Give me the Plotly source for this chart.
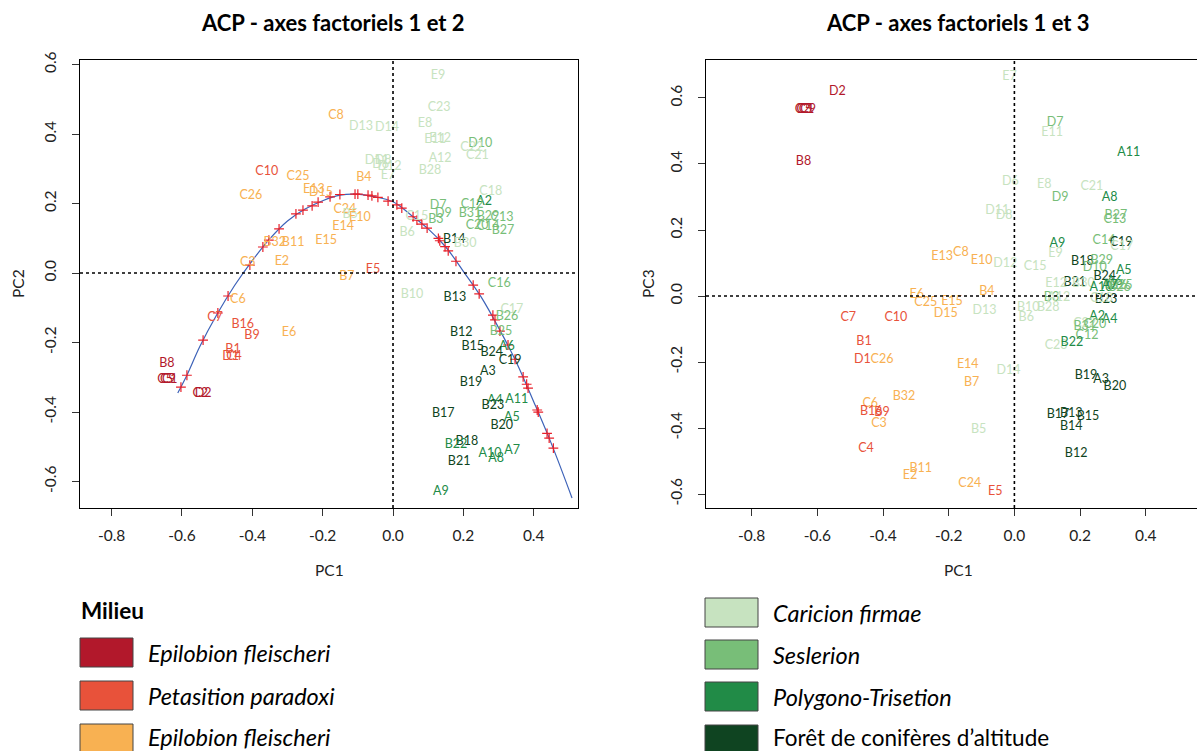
import plotly.graph_objects as go

W, H = 1197, 751
FONT = "Lato"

# ---------------- groups / legend ----------------
group_names = ["Epilobion fleischeri", "Petasition paradoxi", "Epilobion fleischeri",
               "Caricion firmae", "Seslerion", "Polygono-Trisetion",
               "Forêt de conifères d’altitude"]
group_colors = ["#B2182B", "#E8523A", "#F8B152", "#C7E3C0", "#78BE78", "#218B47", "#0F4421"]
group_italic = [True, True, True, True, True, True, False]

members_epilobion_dark = ["B8", "C1", "C2", "C5", "C9", "D2"]
members_petasition = ["C10", "C7", "B16", "B9", "B1", "D1", "C4", "E5"]
members_epilobion_orange = ["C8", "C25", "C26", "E13", "D15", "B32", "B11", "E15", "B4",
                            "C24", "E10", "E14", "E2", "C3", "C6", "E6", "B7"]
members_caricion = ["E7", "E8", "E9", "E11", "E12", "C15", "C17", "C18", "C21", "C22", "C23",
                    "D6", "D8", "D11", "D12", "D13", "D14", "A12", "B28", "B30", "B6", "B10", "B5"]
members_seslerion = ["D7", "D9", "D10", "C12", "C13", "C14", "C16", "C20", "B3", "B25",
                     "B26", "B27", "B29", "B31"]
members_polygono = ["A2", "A4", "A5", "A6", "A7", "A8", "A9", "A10", "A11", "B22"]
members_foret = ["A3", "B12", "B13", "B14", "B15", "B17", "B18", "B19", "B20", "B21",
                 "B23", "B24", "C19"]

# ---------------- plot 1: PC1 x PC2 ----------------
names12 = ["C10", "C25", "C26", "E13", "D15", "B32", "B11", "E15", "C8", "B4", "C24", "B5",
           "E10", "E14", "E2", "C3", "C6", "C7", "B16", "B9", "E6", "B1", "D1", "C4", "B8",
           "C5", "C9", "C1", "C2", "D2",
           "E9", "C23", "D13", "D14", "E8", "E11", "E12", "D10", "C22", "C21", "A12", "D11",
           "D8", "D6", "D12", "E7", "B28", "C18", "A2", "C12", "D7", "D9", "B31", "B3", "C15",
           "B6", "B29", "C13", "C20", "C14", "B27", "B14", "B30", "E5", "B7",
           "C16", "B10", "B13", "C17", "B26", "B25", "B12", "B15", "A6", "B24", "C19", "A3",
           "B19", "A4", "A11", "B23", "B17", "A5", "B20", "B18", "B22", "A10", "A7", "A8",
           "B21", "A9"]
pc1_12 = [-0.359, -0.27, -0.404, -0.225, -0.205, -0.336, -0.284, -0.19, -0.162, -0.083, -0.137, -0.122,
          -0.094, -0.142, -0.316, -0.413, -0.441, -0.506, -0.427, -0.401, -0.296, -0.455, -0.462, -0.452, -0.643,
          -0.648, -0.640, -0.635, -0.548, -0.540,
          0.128, 0.131, -0.091, -0.017, 0.091, 0.120, 0.134, 0.248, 0.224, 0.240, 0.134, -0.046,
          -0.028, -0.035, -0.010, -0.014, 0.105, 0.278, 0.259, 0.225, 0.128, 0.143, 0.219, 0.122, 0.068,
          0.040, 0.270, 0.310, 0.239, 0.270, 0.313, 0.174, 0.205, -0.057, -0.131,
          0.302, 0.054, 0.176, 0.338, 0.324, 0.307, 0.194, 0.227, 0.324, 0.281, 0.333, 0.270,
          0.222, 0.290, 0.352, 0.284, 0.143, 0.338, 0.309, 0.210, 0.179, 0.276, 0.339, 0.293,
          0.188, 0.136]
pc2_12 = [0.292, 0.276, 0.222, 0.240, 0.232, 0.086, 0.087, 0.092, 0.452, 0.273, 0.181, 0.167,
          0.158, 0.132, 0.032, 0.029, -0.078, -0.130, -0.150, -0.181, -0.172, -0.222, -0.242, -0.242, -0.262,
          -0.308, -0.308, -0.308, -0.349, -0.349,
          0.567, 0.474, 0.420, 0.417, 0.429, 0.383, 0.386, 0.371, 0.360, 0.337, 0.328, 0.322,
          0.322, 0.310, 0.305, 0.280, 0.294, 0.233, 0.204, 0.196, 0.193, 0.170, 0.170, 0.153, 0.161,
          0.115, 0.161, 0.158, 0.135, 0.132, 0.121, 0.095, 0.083, 0.009, -0.012,
          -0.030, -0.063, -0.072, -0.106, -0.126, -0.170, -0.173, -0.212, -0.212, -0.231, -0.253, -0.284,
          -0.317, -0.367, -0.365, -0.383, -0.406, -0.417, -0.439, -0.485, -0.493, -0.520, -0.512, -0.535,
          -0.543, -0.629]

# principal curve
curve_x = [-0.612, -0.586, -0.55, -0.50, -0.45, -0.40, -0.35, -0.30, -0.25, -0.20, -0.15, -0.108,
           -0.05, 0.00, 0.05, 0.10, 0.15, 0.20, 0.25, 0.30, 0.35, 0.40, 0.45, 0.509]
curve_y = [-0.345, -0.294, -0.213, -0.118, -0.035, 0.036, 0.099, 0.150, 0.184, 0.208, 0.224, 0.227,
           0.219, 0.205, 0.168, 0.127, 0.075, 0.005, -0.068, -0.157, -0.255, -0.370, -0.490, -0.647]

# projections of the samples on the curve (red crosses)
cross_x = [-0.603, -0.586, -0.540, -0.498, -0.469, -0.407, -0.370, -0.353, -0.324, -0.276, -0.256,
           -0.230, -0.213, -0.179, -0.151, -0.108, -0.100, -0.071, -0.060, -0.043, -0.014, 0.011,
           0.025, 0.057, 0.068, 0.082, 0.097, 0.129, 0.133, 0.148, 0.157, 0.179, 0.228, 0.245,
           0.284, 0.290, 0.304, 0.327, 0.347, 0.370, 0.380, 0.384, 0.410, 0.413, 0.438, 0.444, 0.456]
cross_y = [-0.328, -0.294, -0.193, -0.115, -0.066, 0.023, 0.075, 0.095, 0.127, 0.170, 0.181,
           0.193, 0.204, 0.219, 0.226, 0.227, 0.227, 0.224, 0.222, 0.218, 0.207, 0.196,
           0.187, 0.162, 0.152, 0.141, 0.129, 0.100, 0.093, 0.076, 0.064, 0.034, -0.035, -0.060,
           -0.121, -0.135, -0.167, -0.207, -0.248, -0.299, -0.320, -0.331, -0.394, -0.400, -0.461, -0.475, -0.504]

# ---------------- plot 2: PC1 x PC3 ----------------
names13 = ["D2", "C1", "C5", "C9", "C2", "B8", "E13", "E7", "D7", "E11", "A11", "D6", "E8", "C21",
           "D9", "A8", "D11", "D8", "B27", "C13", "C14", "C19", "C17", "A9", "E9", "C8", "E10",
           "D12", "C15", "B18", "B29", "D10", "A5", "B24", "B21", "E12", "B30", "A10", "A6",
           "B26", "C16", "B25", "A7", "E15", "B4", "B3", "A12", "B23", "C18", "E6", "C25", "D15",
           "C7", "C10", "B1", "D1", "C26", "B32", "C6", "B16", "B9", "C3", "C4", "B11", "E2",
           "D13", "B10", "B28", "B6", "A2", "A4", "C22", "B31", "C20", "C12", "C23", "B22",
           "E14", "D14", "B7", "B19", "A3", "B20", "B17", "B13", "B15", "B14", "B5", "B12",
           "C24", "E5"]
pc1_13 = [-0.539, -0.633, -0.640, -0.628, -0.645, -0.642, -0.220, -0.015, 0.124, 0.115, 0.348, -0.012, 0.091, 0.236,
          0.139, 0.290, -0.052, -0.031, 0.309, 0.306, 0.273, 0.325, 0.327, 0.131, 0.125, -0.163, -0.100,
          -0.028, 0.063, 0.207, 0.266, 0.245, 0.333, 0.275, 0.184, 0.127, 0.210, 0.264, 0.305,
          0.320, 0.310, 0.325, 0.290, -0.190, -0.084, 0.113, 0.135, 0.279, 0.265, -0.297, -0.270, -0.209,
          -0.506, -0.361, -0.458, -0.463, -0.403, -0.336, -0.439, -0.436, -0.403, -0.412, -0.452, -0.285, -0.318,
          -0.091, 0.042, 0.103, 0.036, 0.252, 0.290, 0.214, 0.214, 0.245, 0.221, 0.127, 0.175,
          -0.142, -0.018, -0.130, 0.218, 0.264, 0.306, 0.133, 0.173, 0.224, 0.173, -0.109, 0.188,
          -0.136, -0.058]
pc3_13 = [0.618, 0.564, 0.564, 0.564, 0.564, 0.406, 0.120, 0.664, 0.524, 0.494, 0.433, 0.345, 0.336, 0.330,
          0.297, 0.297, 0.258, 0.243, 0.243, 0.230, 0.167, 0.160, 0.149, 0.157, 0.127, 0.131, 0.106,
          0.097, 0.088, 0.103, 0.106, 0.085, 0.076, 0.058, 0.039, 0.036, 0.036, 0.024, 0.042,
          0.024, 0.032, 0.030, 0.030, -0.018, 0.012, -0.006, -0.005, -0.012, -0.010, 0.003, -0.021, -0.055,
          -0.066, -0.066, -0.140, -0.194, -0.194, -0.306, -0.328, -0.352, -0.355, -0.388, -0.464, -0.524, -0.545,
          -0.045, -0.036, -0.036, -0.067, -0.063, -0.073, -0.083, -0.094, -0.088, -0.121, -0.152, -0.143,
          -0.209, -0.227, -0.264, -0.242, -0.255, -0.276, -0.361, -0.358, -0.367, -0.397, -0.406, -0.479,
          -0.570, -0.594]

x_ticks = [-0.8, -0.6, -0.4, -0.2, 0.0, 0.2, 0.4]
y_ticks = [-0.6, -0.4, -0.2, 0.0, 0.2, 0.4, 0.6]

# ---------------- helpers ----------------
all_members = [members_epilobion_dark, members_petasition, members_epilobion_orange,
               members_caricion, members_seslerion, members_polygono, members_foret]
name_to_group = {}
for gi, mem in enumerate(all_members):
    for n in mem:
        name_to_group[n] = gi


def colors_for(names):
    return [group_colors[name_to_group[n]] for n in names]


def px(xp):
    return xp / W


def py(yp):
    return 1 - yp / H


fig = go.Figure()

# plot 1
fig.add_trace(go.Scatter(x=curve_x, y=curve_y, mode="lines", line=dict(color="#3D62B8", width=1.2, shape="spline"),
                         xaxis="x", yaxis="y", showlegend=False, hoverinfo="skip"))
fig.add_trace(go.Scatter(x=cross_x, y=cross_y, mode="markers",
                         marker=dict(symbol="cross-thin", size=7, line=dict(color="#E8202A", width=1.2)),
                         xaxis="x", yaxis="y", showlegend=False, hoverinfo="skip"))
fig.add_trace(go.Scatter(x=pc1_12, y=pc2_12, mode="text", text=names12,
                         textfont=dict(family=FONT, size=12.5, color=colors_for(names12)),
                         xaxis="x", yaxis="y", showlegend=False))
# plot 2
fig.add_trace(go.Scatter(x=pc1_13, y=pc3_13, mode="text", text=names13,
                         textfont=dict(family=FONT, size=12.5, color=colors_for(names13)),
                         xaxis="x2", yaxis="y2", showlegend=False))

ydom = [py(508), py(60)]
axis_common = dict(showgrid=False, zeroline=False, showline=True, linecolor="black", linewidth=1,
                   ticks="outside", ticklen=7, tickcolor="#333", tickwidth=1, automargin=False,
                   tickfont=dict(family=FONT, size=15.5, color="#222"))

fig.update_layout(
    width=W, height=H, paper_bgcolor="white", plot_bgcolor="white",
    margin=dict(l=0, r=0, t=0, b=0, pad=0, autoexpand=False), showlegend=False,
    xaxis=dict(domain=[px(80), px(578)], range=[-0.89, 0.526], tickvals=x_ticks, mirror=True,
               ticktext=[f"{v:.1f}" for v in x_ticks], anchor="y", ticklabelstandoff=6, **axis_common),
    yaxis=dict(domain=ydom, range=[-0.676, 0.613], tickvals=y_ticks, mirror=True,
               ticktext=[f"{v:.1f}" for v in y_ticks], anchor="x", tickangle=-90, ticklabelstandoff=10, **axis_common),
    xaxis2=dict(domain=[px(706), 1.0], range=[-0.939, 0.556], tickvals=x_ticks, mirror=True,
                ticktext=[f"{v:.1f}" for v in x_ticks], anchor="y2", ticklabelstandoff=6, **axis_common),
    yaxis2=dict(domain=ydom, range=[-0.642, 0.715], tickvals=y_ticks, mirror=False,
                ticktext=[f"{v:.1f}" for v in y_ticks], anchor="x2", tickangle=-90, ticklabelstandoff=10, **axis_common),
)

# dotted zero lines
for xr, yr in (("x", "y"), ("x2", "y2")):
    fig.add_shape(type="line", xref=xr, yref=f"{yr} domain", x0=0, x1=0, y0=0, y1=1,
                  line=dict(color="black", width=1.6, dash="dot"))
    fig.add_shape(type="line", xref=f"{xr} domain", yref=yr, x0=0, x1=1, y0=0, y1=0,
                  line=dict(color="black", width=1.6, dash="dot"))

ann = []
# titles
ann.append(dict(x=px(333), y=py(22), text="<b>ACP - axes factoriels 1 et 2</b>", showarrow=False,
                xref="paper", yref="paper", xanchor="center", yanchor="middle",
                font=dict(family=FONT, size=22, color="black")))
ann.append(dict(x=px(958), y=py(22), text="<b>ACP - axes factoriels 1 et 3</b>", showarrow=False,
                xref="paper", yref="paper", xanchor="center", yanchor="middle",
                font=dict(family=FONT, size=22, color="black")))
# axis titles
for (x_, y_, t, ang) in [(329, 570, "PC1", 0), (958, 570, "PC1", 0), (18, 284, "PC2", -90), (648, 284, "PC3", -90)]:
    ann.append(dict(x=px(x_), y=py(y_), text=t, showarrow=False, xref="paper", yref="paper",
                    xanchor="center", yanchor="middle",
                    textangle=ang, font=dict(family=FONT, size=15.5, color="#222")))

# legend
ann.append(dict(x=px(79), y=py(610), text="<b>Milieu</b>", showarrow=False, xref="paper", yref="paper",
                xanchor="left", yanchor="middle", font=dict(family=FONT, size=22.5, color="black")))
legend_slots = [(80, 638), (80, 681), (80, 724), (705, 598), (705, 640), (705, 682), (705, 725)]
for gi, (lx, ly) in enumerate(legend_slots):
    fig.add_shape(type="rect", xref="paper", yref="paper", x0=px(lx), x1=px(lx + 53),
                  y0=py(ly + 29), y1=py(ly), line=dict(color="#444", width=1),
                  fillcolor=group_colors[gi])
    label = group_names[gi]
    size = 22.5
    if group_italic[gi]:
        label = f"<i>{label}</i>"
        size = 23.5
    ty = min(ly + 15, 737)
    ann.append(dict(x=px(lx + 66), y=py(ty), text=label, showarrow=False, xref="paper", yref="paper",
                    xanchor="left", yanchor="middle", font=dict(family=FONT, size=size, color="black")))

fig.update_layout(annotations=ann)
fig.write_html(
    "out.html", config={"displayModeBar": False},
    post_script=("document.documentElement.style.margin='0px';document.body.style.margin='0px';"
                 "document.body.style.overflow='hidden';"
                 "var d=document.getElementById('{plot_id}');d.style.position='absolute';"
                 "d.style.top='0px';d.style.left='0px';"))
